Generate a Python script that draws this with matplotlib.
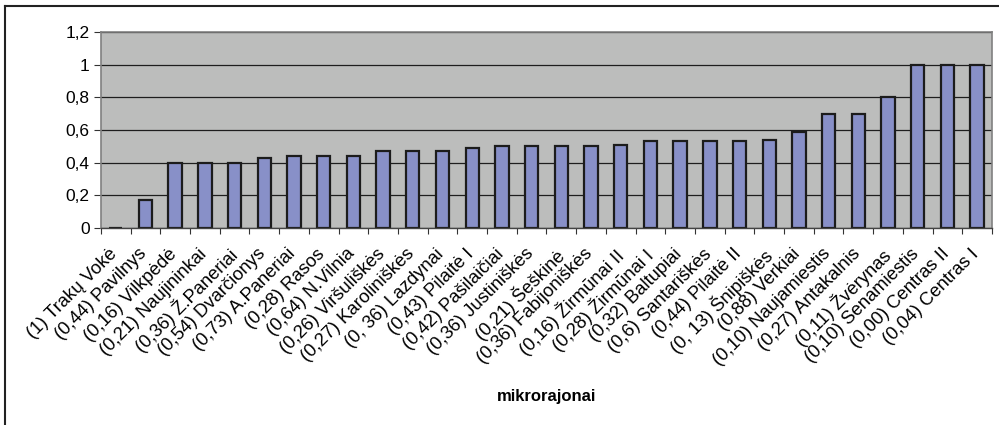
import numpy as np
import matplotlib.pyplot as plt
from matplotlib.lines import Line2D
from matplotlib.ticker import FixedLocator, FuncFormatter
from matplotlib.transforms import ScaledTranslation

plt.rcParams['font.family'] = ['Liberation Sans', 'DejaVu Sans']

# microdistricts, sorted by index value
districts = [
    '(1) Trakų Vokė', '(0,44) Pavilnys', '(0,16) Vilkpėdė', '(0,21) Naujininkai',
    '(0,36) Ž.Paneriai', '(0,54) Dvarčionys', '(0,73) A.Paneriai', '(0,28) Rasos',
    '(0,64) N.Vilnia', '(0,26) Viršuliškės', '(0,27) Karoliniškės', '(0, 36) Lazdynai',
    '(0,43) Pilaitė I', '(0,42) Pašilaičiai', '(0,36) Justiniškės', '(0,21) Šeškinė',
    '(0,36) Fabijoniškės', '(0,16) Žirmūnai II', '(0,28) Žirmūnai I', '(0,32) Baltupiai',
    '(0,6) Santariškės', '(0,44) Pilaitė II', '(0, 13) Šnipiškės', '(0,88) Verkiai',
    '(0,10) Naujamiestis', '(0,27) Antakalnis', '(0,11) Žvėrynas', '(0,10) Senamiestis',
    '(0,00) Centras II', '(0,04) Centras I',
]
values = [
    0.0, 0.17, 0.40, 0.40, 0.40, 0.43, 0.44, 0.44, 0.44, 0.47,
    0.47, 0.47, 0.49, 0.50, 0.50, 0.50, 0.50, 0.51, 0.53, 0.53,
    0.53, 0.53, 0.54, 0.59, 0.70, 0.70, 0.80, 1.0, 1.0, 1.0,
]
yticks = [0, 0.2, 0.4, 0.6, 0.8, 1.0, 1.2]

fig = plt.figure(figsize=(9.99, 4.25), dpi=100)
ax = fig.add_axes([0.101, 0.4635, 0.892, 0.4612])

x = np.arange(len(districts))
ax.set_facecolor('#bcbdbc')
ax.set_axisbelow(True)
ax.bar(x, values, width=0.45, color='#8890c8', edgecolor='#1c1c1c', linewidth=1.6, zorder=2)

ax.set_xlim(-0.5, len(districts) - 0.5)
ax.set_ylim(0, 1.2)
ax.yaxis.set_major_locator(FixedLocator(yticks))
ax.yaxis.set_major_formatter(FuncFormatter(lambda v, p: f'{v:g}'.replace('.', ',')))
ax.grid(axis='y', color='#1e1e1e', linewidth=0.9)

ax.set_xticks(x)
ax.set_xticks(np.arange(len(districts) + 1) - 0.5, minor=True)
ax.tick_params(axis='x', which='major', length=0, pad=12.5)
ax.tick_params(axis='x', which='minor', length=4, width=0.8, color='#333333')
ax.tick_params(axis='y', length=5, width=0.8, color='#333333', labelsize=12.5, pad=3)
ax.set_xticklabels(districts, rotation=45, ha='right', va='top',
                   rotation_mode='anchor', fontsize=13.2)
# nudge the slanted labels a little to the left of their ticks
shift = ScaledTranslation(-7 / 100, 0, fig.dpi_scale_trans)
for lbl in ax.get_xticklabels():
    lbl.set_transform(lbl.get_transform() + shift)

for side in ['top', 'right', 'left']:
    ax.spines[side].set_color('#808080')
    ax.spines[side].set_linewidth(1.2)
ax.spines['bottom'].set_color('#444444')
ax.spines['bottom'].set_linewidth(1.0)
ax.spines['bottom'].set_zorder(3)

fig.text(0.547, 0.066, 'mikrorajonai', ha='center', va='center',
         fontsize=12, fontweight='bold')

# outer frame, top and left edges only
fig.add_artist(Line2D([0.005, 1.0], [0.987, 0.987], color='#222222', linewidth=1.5))
fig.add_artist(Line2D([0.005, 0.005], [0.0, 0.987], color='#222222', linewidth=1.5))

fig.savefig('out.png', dpi=100)
